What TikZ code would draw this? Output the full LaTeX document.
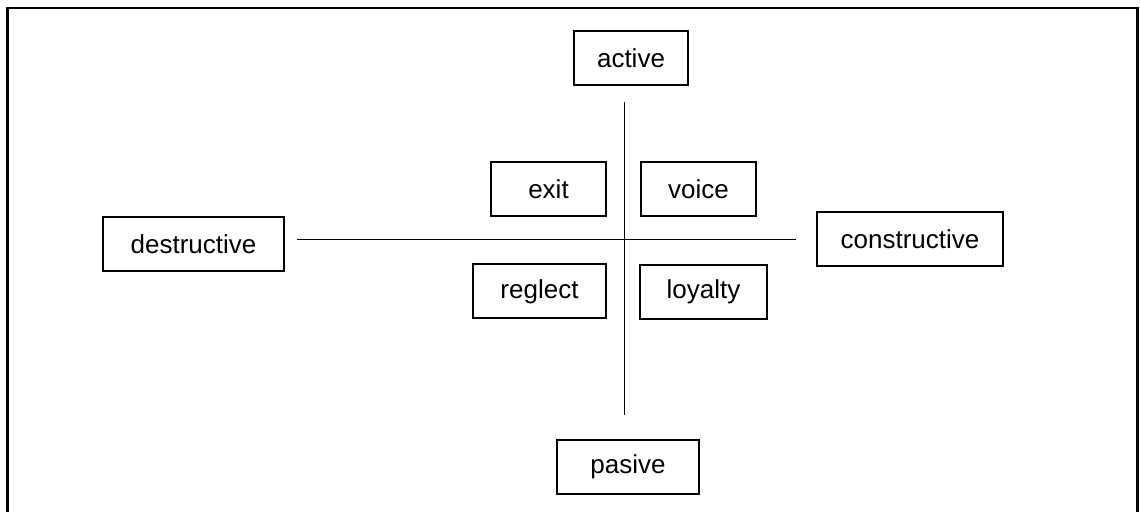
\documentclass[tikz,border=0pt]{standalone}
\usepackage{fontspec}
\setmainfont{Liberation Sans}
\usepackage{tikz}
\usetikzlibrary{
positioning,
calc
}

\tikzset{
  lbl/.style={draw,line width=1pt,minimum height=27pt,inner sep=0pt,font=\fontsize{13}{15}\selectfont},
  axis/.style={line width=0.5pt}
}

\begin{document}
\begin{tikzpicture}[x=0.5pt,y=-0.5pt]
      \useasboundingbox (0,0) rectangle (1140,512);
      \clip (0,0) rectangle (1140,512);
      \draw[line width=1.25pt] (7.5,540) -- (7.5,8) -- (1137.5,8) -- (1137.5,540);
      % the two axes
      \coordinate (top) at (624,102);
      \coordinate (bot) at (624,415);
      \coordinate (lft) at (297,240);
      \coordinate (rgt) at (796,240);
      \path[axis] (top) edge (bot);
      \path[axis] (lft) edge (rgt);
      % the ends
      \node[lbl,minimum width=57pt] (act) at (631,58.5) {active};
      \node[lbl,minimum width=71pt] (pas) at (628,467) {pasive};
      \node[lbl,minimum width=90.5pt] (des) at (193.5,244) {destructive};
      \node[lbl,minimum width=93pt] (con) at (910,239) {constructive};
      % the four quadrants
      \node[lbl,minimum width=57.5pt] (ext) at (548.5,189.5) {exit};
      \node[lbl,minimum width=57.5pt] (voc) at (698.5,189.5) {voice};
      \node[lbl,minimum width=66.5pt] (reg) at (539.5,291.5) {reglect};
      \node[lbl,minimum width=63.5pt] (loy) at (703.5,292) {loyalty};
\end{tikzpicture}
\end{document}
